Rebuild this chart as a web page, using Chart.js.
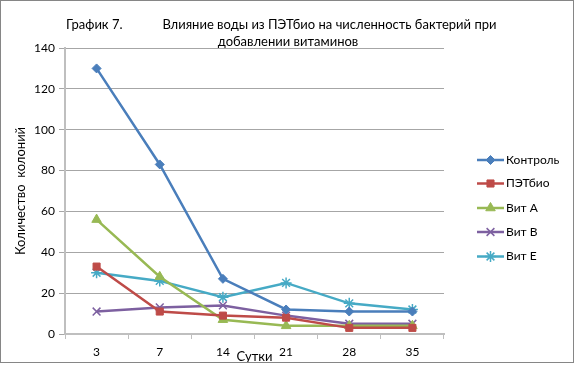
<!DOCTYPE html>
<html><head><meta charset="utf-8">
<script src="https://cdn.jsdelivr.net/npm/chart.js@4/dist/chart.umd.min.js"></script>
<style>html,body{margin:0;padding:0;background:#fff}#wrap{width:575px;height:367px;position:relative}</style>
</head><body><div id="wrap"><canvas id="c" width="575" height="367"></canvas></div>
<script>
const days = ['3','7','14','21','28','35'];
const kontrol = [130, 83, 27, 12, 11, 11];
const petbio  = [33, 11, 9, 8, 3, 3];
const vitA    = [56, 28, 7, 4, 4, 4];
const vitB    = [11, 13, 14, 9, 5, 5];
const vitE    = [30, 26, 18, 25, 15, 12];
const seriesNames = ['Контроль','ПЭТбио','Вит A','Вит B','Вит E'];
const yTicks = [0,20,40,60,80,100,120,140];
const titleLines = ['График 7.            Влияние воды из ПЭТбио на численность бактерий при', 'добавлении витаминов'];

const FONT = 'Lato, "Liberation Sans", sans-serif';
const colors = ['#4A7EBB','#BE4B48','#98B954','#7D60A0','#46AAC5'];
const styles = ['rectRot','rect','triangle','crossRot','star'];
const radii = [4.5,5,5.5,5.5,5.5];
const dataArr = [kontrol, petbio, vitA, vitB, vitE];

const datasets = dataArr.map((d,i)=>({
  label: seriesNames[i], data: d,
  borderColor: colors[i], backgroundColor: colors[i],
  borderWidth: 2.5, pointStyle: styles[i], pointRadius: radii[i],
  pointBorderWidth: (styles[i]==='crossRot'||styles[i]==='star') ? 1.5 : 1,
  pointBorderColor: colors[i], pointBackgroundColor: colors[i], tension: 0
}));

const frameAndLegend = {
  id: 'frameAndLegend',
  beforeDraw(chart){
    const ctx = chart.ctx;
    ctx.save(); ctx.fillStyle = '#fff'; ctx.fillRect(0,0,chart.width,chart.height); ctx.restore();
  },
  afterDraw(chart){
    const ctx = chart.ctx;
    ctx.save();
    ctx.strokeStyle = '#868686'; ctx.lineWidth = 1;
    ctx.strokeRect(0.5,0.5,573,362);
    // title
    ctx.fillStyle = '#000'; ctx.font = '13px ' + FONT;
    ctx.textAlign = 'left'; ctx.textBaseline = 'middle';
    ctx.fillText(titleLines[0], 66, 25);
    ctx.textAlign = 'center';
    ctx.fillText(titleLines[1], 288, 42);
    // legend
    const ys = [160,183.5,208,232,256.5];
    chart.data.datasets.forEach((ds,i)=>{
      const y = ys[i];
      ctx.strokeStyle = ds.borderColor; ctx.lineWidth = 2.5;
      ctx.beginPath(); ctx.moveTo(477,y); ctx.lineTo(504,y); ctx.stroke();
      ctx.fillStyle = ds.borderColor; ctx.lineWidth = ds.pointBorderWidth;
      Chart.helpers.drawPoint(ctx, {pointStyle: ds.pointStyle, radius: ds.pointRadius, rotation: 0, borderWidth: ds.pointBorderWidth}, 490.5, y);
      ctx.fillStyle = '#000'; ctx.font = '12px ' + FONT;
      ctx.textBaseline = 'middle'; ctx.textAlign = 'left';
      ctx.fillText(ds.label, 506, y);
    });
    ctx.restore();
  }
};

new Chart(document.getElementById('c'), {
  type: 'line',
  data: { labels: days, datasets },
  plugins: [frameAndLegend],
  options: {
    responsive: false, animation: false,
    layout: { padding: { left: 6, right: 131, top: 48, bottom: 0 } },
    plugins: {
      legend: { display: false },
      tooltip: { enabled: false },
      title: { display: false }
    },
    scales: {
      x: {
        offset: true,
        afterFit(s){ s.height = 33; },
        grid: { offset: true, drawOnChartArea: false, drawTicks: true, tickLength: 5, color: '#BFBFBF', lineWidth: 1 },
        border: { color: '#BFBFBF', width: 2 },
        ticks: { color: '#000', font: { family: FONT, size: 12 }, padding: 6, maxRotation: 0 },
        title: { display: true, text: 'Сутки', color: '#000', font: { family: FONT, size: 13 }, padding: { top: 0, bottom: 2 } }
      },
      y: {
        min: 0, max: 140,
        afterFit(s){ s.width = 59; },
        afterBuildTicks(scale){ scale.ticks = yTicks.map(v=>({value:v})); },
        grid: { color: '#A6A6A6', lineWidth: 1, tickLength: 6 },
        border: { color: '#BFBFBF', width: 2 },
        ticks: { color: '#000', font: { family: FONT, size: 12 }, padding: 4 },
        title: { display: true, text: 'Количество  колоний', color: '#000', font: { family: FONT, size: 13 }, padding: { top: 7, bottom: 2 } }
      }
    }
  }
});
</script></body></html>
